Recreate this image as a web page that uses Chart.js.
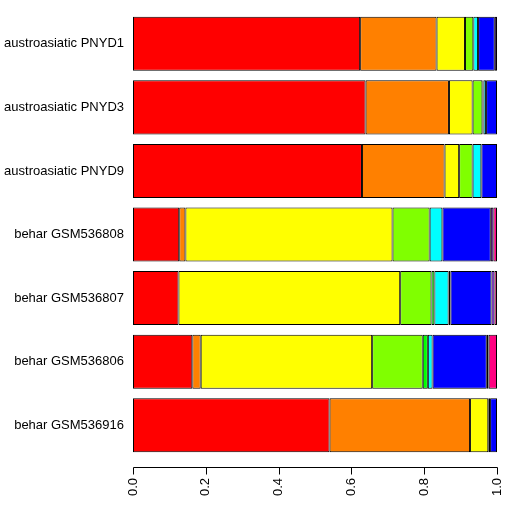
<!DOCTYPE html>
<html>
<head>
<meta charset="utf-8">
<script src="https://cdn.jsdelivr.net/npm/chart.js@4"></script>
<style>
  html, body { margin: 0; padding: 0; background: #fff; }
  #wrap { width: 512px; height: 512px; }
</style>
</head>
<body>
<div id="wrap"><canvas id="chart" width="512" height="512"></canvas></div>
<script>
// Sample names, top to bottom
const samples = [
    "austroasiatic PNYD1",
    "austroasiatic PNYD3",
    "austroasiatic PNYD9",
    "behar GSM536808",
    "behar GSM536807",
    "behar GSM536806",
    "behar GSM536916",
];

// Ancestry proportions per component (one value per sample)
const comp1 = [0.624, 0.639, 0.629, 0.127, 0.125, 0.163, 0.540];
const comp2 = [0.210, 0.229, 0.227, 0.017, null, 0.023, 0.386];
const comp3 = [0.078, 0.065, 0.040, 0.569, 0.609, 0.471, 0.050];
const comp4 = [0.023, 0.027, 0.037, 0.102, 0.086, 0.139, null];
const comp5 = [null, 0.003, null, null, 0.008, 0.014, null];
const comp6 = [0.013, 0.007, 0.024, 0.035, 0.039, 0.013, 0.005];
const comp7 = [null, null, null, null, 0.005, null, null];
const comp8 = [0.046, 0.030, 0.043, 0.133, 0.113, 0.149, 0.019];
const comp9 = [0.006, null, null, 0.007, 0.008, 0.005, null];
const comp10 = [null, null, null, 0.010, 0.007, 0.023, null];

const xTicks = [0, 0.2, 0.4, 0.6, 0.8, 1.0];

const components = [comp1, comp2, comp3, comp4, comp5, comp6, comp7, comp8, comp9, comp10];
const compColors = ["#FF0000", "#FF8000", "#FFFF00", "#80FF00", "#00FF00",
                    "#00FFFF", "#0080FF", "#0000FF", "#8000FF", "#FF0080"];

// Draw the R-style detached x axis line with tick marks
const axisLine = {
    id: "axisLine",
    afterDraw(chart) {
        const ctx = chart.ctx;
        const x = chart.scales.x;
        const y = Math.round(chart.chartArea.bottom + 10) + 0.5;
        ctx.save();
        ctx.strokeStyle = "#000";
        ctx.lineWidth = 1;
        ctx.beginPath();
        ctx.moveTo(Math.round(x.getPixelForValue(0)) + 0.5, y);
        ctx.lineTo(Math.round(x.getPixelForValue(1)) + 0.5, y);
        for (const t of xTicks) {
            const px = Math.round(x.getPixelForValue(t)) + 0.5;
            ctx.moveTo(px, y);
            ctx.lineTo(px, y + 7);
        }
        ctx.stroke();
        ctx.restore();
    },
};

new Chart(document.getElementById("chart"), {
    type: "bar",
    plugins: [axisLine],
    data: {
        labels: samples,
        datasets: components.map((vals, i) => ({
            data: vals,
            backgroundColor: compColors[i],
            borderColor: "#000",
            borderWidth: 1,
            borderSkipped: false,
            barPercentage: 0.85,
            categoryPercentage: 1.0,
        })),
    },
    options: {
        indexAxis: "y",
        responsive: false,
        animation: false,
        layout: { padding: { top: 12, right: 15, left: 0, bottom: 0 } },
        plugins: {
            legend: { display: false },
            tooltip: { enabled: false },
        },
        scales: {
            x: {
                stacked: true,
                min: 0,
                max: 1,
                afterFit: (s) => { s.height = 55; s.paddingLeft = 0; s.paddingRight = 0; },
                afterBuildTicks: (s) => { s.ticks = xTicks.map((v) => ({ value: v })); },
                grid: { display: false, drawTicks: true, tickLength: 17 },
                border: { display: false },
                ticks: {
                    minRotation: 90,
                    maxRotation: 90,
                    padding: 4,
                    color: "#000",
                    font: { family: "Liberation Sans, Arial, sans-serif", size: 13 },
                    callback: (v) => Number(v).toFixed(1),
                },
            },
            y: {
                stacked: true,
                afterFit: (s) => { s.width = 133; s.paddingTop = 0; s.paddingBottom = 0; },
                grid: { display: false, drawTicks: false },
                border: { display: false },
                ticks: {
                    padding: 9,
                    color: "#000",
                    font: { family: "Liberation Sans, Arial, sans-serif", size: 13 },
                },
            },
        },
    },
});
</script>
</body>
</html>
